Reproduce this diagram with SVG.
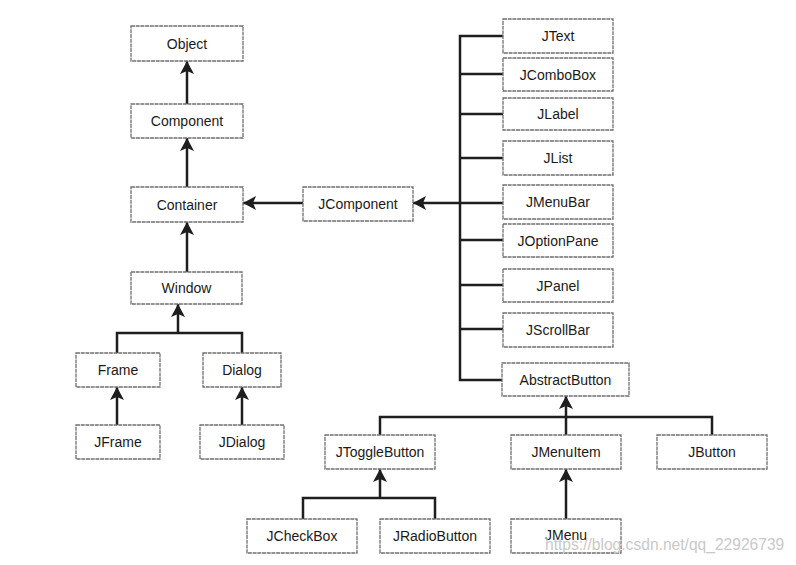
<svg xmlns="http://www.w3.org/2000/svg" width="796" height="565" viewBox="0 0 796 565">
<style>
.box{fill:#fff;stroke:#707070;stroke-width:1.3;stroke-dasharray:4 0.7}
.lbl{font-family:"Liberation Sans",Arial,sans-serif;font-size:14px;fill:#1a1a1a;text-anchor:middle}
.c{fill:none;stroke:#1e1e1e;stroke-width:2.5}
.a{marker-end:url(#arr)}
.wm{font-family:"Liberation Sans",Arial,sans-serif;font-size:15.6px;fill:#c9c9c9}
</style>
<defs>
<marker id="arr" markerUnits="userSpaceOnUse" markerWidth="14" markerHeight="14" refX="13" refY="7" orient="auto" viewBox="0 0 14 14">
<path d="M0,0 L13,7 L0,14 L3,7 Z" fill="#1e1e1e"/>
</marker>
</defs>
<rect width="796" height="565" fill="#fff"/>
<g id="connectors">
<path class="c a" d="M187,104 V61"/>
<path class="c a" d="M187,187 V138"/>
<path class="c a" d="M187,272 V222"/>
<path class="c a" d="M303,203 H243"/>
<path class="c" d="M117,353 V333 H242 V353"/>
<path class="c a" d="M178,333 V304"/>
<path class="c a" d="M117,425 V387"/>
<path class="c a" d="M242,425 V387"/>
<path class="c" d="M503,36 H460 V380 H502"/>
<path class="c" d="M460,74 H503 M460,114 H503 M460,158 H503 M460,240 H503 M460,285 H503 M460,329 H503"/>
<path class="c a" d="M503,203 H413"/>
<path class="c" d="M380,435 V417 H712 V435 M566,417 V435"/>
<path class="c a" d="M566,417 V396"/>
<path class="c" d="M303,519 V498 H435 V519"/>
<path class="c a" d="M380,498 V469"/>
<path class="c a" d="M566,519 V469"/>
</g>
<g id="Object"><rect class="box" x="131" y="26" width="112" height="35"/><text class="lbl" x="187" y="48.5">Object</text></g>
<g id="Component"><rect class="box" x="131" y="104" width="112" height="34"/><text class="lbl" x="187" y="126">Component</text></g>
<g id="Container"><rect class="box" x="131" y="187" width="112" height="35"/><text class="lbl" x="187" y="209.5">Container</text></g>
<g id="Window"><rect class="box" x="131" y="272" width="111" height="32"/><text class="lbl" x="186.5" y="293">Window</text></g>
<g id="Frame"><rect class="box" x="76" y="353" width="84" height="34"/><text class="lbl" x="118" y="375">Frame</text></g>
<g id="Dialog"><rect class="box" x="203" y="353" width="78" height="34"/><text class="lbl" x="242" y="375">Dialog</text></g>
<g id="JFrame"><rect class="box" x="76" y="425" width="84" height="34"/><text class="lbl" x="118" y="447">JFrame</text></g>
<g id="JDialog"><rect class="box" x="200" y="425" width="84" height="34"/><text class="lbl" x="242" y="447">JDialog</text></g>
<g id="JComponent"><rect class="box" x="303" y="187" width="110" height="34"/><text class="lbl" x="358" y="209">JComponent</text></g>
<g id="JText"><rect class="box" x="503" y="19" width="110" height="34"/><text class="lbl" x="558" y="41">JText</text></g>
<g id="JComboBox"><rect class="box" x="503" y="58" width="110" height="33"/><text class="lbl" x="558" y="79.5">JComboBox</text></g>
<g id="JLabel"><rect class="box" x="503" y="98" width="110" height="32"/><text class="lbl" x="558" y="119">JLabel</text></g>
<g id="JList"><rect class="box" x="503" y="141" width="110" height="34"/><text class="lbl" x="558" y="163">JList</text></g>
<g id="JMenuBar"><rect class="box" x="503" y="185" width="110" height="34"/><text class="lbl" x="558" y="207">JMenuBar</text></g>
<g id="JOptionPane"><rect class="box" x="503" y="224" width="110" height="33"/><text class="lbl" x="558" y="245.5">JOptionPane</text></g>
<g id="JPanel"><rect class="box" x="503" y="269" width="110" height="33"/><text class="lbl" x="558" y="290.5">JPanel</text></g>
<g id="JScrollBar"><rect class="box" x="503" y="313" width="110" height="34"/><text class="lbl" x="558" y="335">JScrollBar</text></g>
<g id="AbstractButton"><rect class="box" x="502" y="363" width="127" height="33"/><text class="lbl" x="565.5" y="384.5">AbstractButton</text></g>
<g id="JToggleButton"><rect class="box" x="325" y="435" width="110" height="34"/><text class="lbl" x="380" y="457">JToggleButton</text></g>
<g id="JMenuItem"><rect class="box" x="511" y="435" width="110" height="34"/><text class="lbl" x="566" y="457">JMenuItem</text></g>
<g id="JButton"><rect class="box" x="657" y="435" width="110" height="34"/><text class="lbl" x="712" y="457">JButton</text></g>
<g id="JCheckBox"><rect class="box" x="247" y="519" width="110" height="34"/><text class="lbl" x="302" y="541">JCheckBox</text></g>
<g id="JRadioButton"><rect class="box" x="380" y="519" width="110" height="34"/><text class="lbl" x="435" y="541">JRadioButton</text></g>
<g id="JMenu"><rect class="box" x="511" y="519" width="110" height="34"/><text class="lbl" x="566" y="540">JMenu</text></g>
<text class="wm" x="545" y="550">https://blog.csdn.net/qq_22926739</text>
</svg>
